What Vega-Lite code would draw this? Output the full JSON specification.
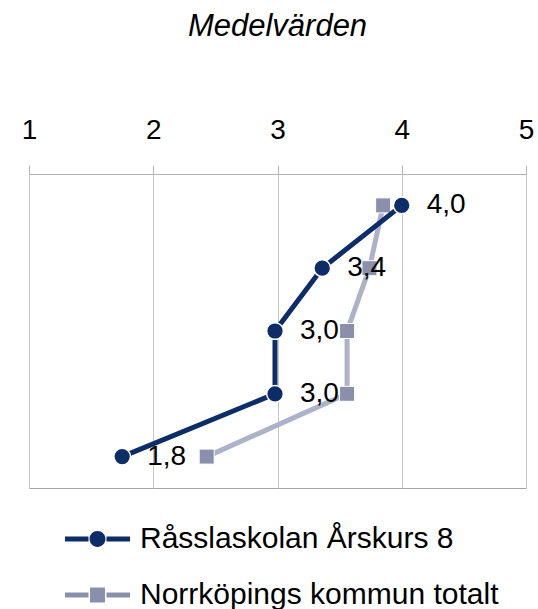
{
  "$schema": "https://vega.github.io/schema/vega-lite/v6.json",
  "width": 497,
  "height": 314,
  "autosize": "none",
  "padding": {"left": 29, "top": 174, "right": 12, "bottom": 121},
  "title": {"text": "Medelvärden", "font": "Liberation Sans", "fontStyle": "italic", "fontWeight": "normal", "fontSize": 31, "color": "#000000", "offset": 73},
  "config": {
    "locale": {"number": {"decimal": ",", "thousands": " ", "grouping": [3], "currency": ["", ""]}},
    "font": "Liberation Sans",
    "view": {"stroke": "#a6a6a6"}
  },
  "data": {"values": [
    {"series": "Råsslaskolan Årskurs 8", "item": "F1", "value": 4.0},
    {"series": "Råsslaskolan Årskurs 8", "item": "F2", "value": 3.36},
    {"series": "Råsslaskolan Årskurs 8", "item": "F3", "value": 2.98},
    {"series": "Råsslaskolan Årskurs 8", "item": "F4", "value": 2.98},
    {"series": "Råsslaskolan Årskurs 8", "item": "F5", "value": 1.75},
    {"series": "Norrköpings kommun totalt", "item": "F1", "value": 3.85},
    {"series": "Norrköpings kommun totalt", "item": "F2", "value": 3.74},
    {"series": "Norrköpings kommun totalt", "item": "F3", "value": 3.56},
    {"series": "Norrköpings kommun totalt", "item": "F4", "value": 3.56},
    {"series": "Norrköpings kommun totalt", "item": "F5", "value": 2.43}
  ]},
  "encoding": {
    "y": {"field": "item", "type": "ordinal", "sort": null, "axis": null, "scale": {"type": "point", "padding": 0.5}},
    "x": {"field": "value", "type": "quantitative", "scale": {"domain": [1, 5], "nice": false, "zero": false},
      "axis": {"orient": "top", "values": [1, 2, 3, 4, 5], "format": "d", "title": null, "grid": true, "gridColor": "#c6c6c6",
        "domainColor": "#b4b4b4", "tickColor": "#b4b4b4", "tickSize": 9, "labelFontSize": 28, "labelColor": "#000000",
        "labelPadding": 21, "labelFont": "Liberation Sans", "labelFlush": false}}
  },
  "layer": [
    {
      "transform": [{"filter": "datum.series === 'Norrköpings kommun totalt'"}],
      "mark": {"type": "line", "color": "#adb2c8", "strokeWidth": 5},
      "encoding": {"order": {"field": "item", "type": "ordinal"}}
    },
    {
      "transform": [{"filter": "datum.series === 'Norrköpings kommun totalt'"}],
      "mark": {"type": "point", "shape": "square", "filled": true, "color": "#8a90ab", "size": 225, "opacity": 1, "stroke": "#ffffff", "strokeWidth": 1}
    },
    {
      "transform": [{"filter": "datum.series === 'Råsslaskolan Årskurs 8'"}],
      "mark": {"type": "line", "color": "#0c2d67", "strokeWidth": 5},
      "encoding": {"order": {"field": "item", "type": "ordinal"}}
    },
    {
      "transform": [{"filter": "datum.series === 'Råsslaskolan Årskurs 8'"}],
      "mark": {"type": "point", "shape": "circle", "filled": true, "color": "#0c2d67", "size": 280, "opacity": 1, "stroke": "#ffffff", "strokeWidth": 1.5}
    },
    {
      "transform": [{"filter": "datum.series === 'Råsslaskolan Årskurs 8'"}],
      "mark": {"type": "text", "align": "left", "baseline": "middle", "dx": 25, "fontSize": 28, "color": "#000000", "font": "Liberation Sans"},
      "encoding": {"text": {"field": "value", "type": "quantitative", "format": ".1f"}}
    },
    {
      "mark": {"type": "point", "filled": true, "opacity": 0},
      "encoding": {
        "color": {"field": "series", "type": "nominal",
          "scale": {"domain": ["Råsslaskolan Årskurs 8", "Norrköpings kommun totalt"], "range": ["#0c2d67", "#8a90ab"]},
          "legend": {"orient": "none", "legendX": 53.5, "legendY": 350, "direction": "vertical", "title": null, "padding": 0,
            "labelFontSize": 30, "labelFont": "Liberation Sans", "labelColor": "#000000", "labelLimit": 0, "symbolSize": 900, "symbolOpacity": 1,
            "symbolStrokeWidth": 0, "labelOffset": 27.5, "rowPadding": 26,
            "encode": {"symbols": {"update": {"opacity": {"value": 1}, "fillOpacity": {"value": 1}, "strokeWidth": {"value": 0}}}}}},
        "shape": {"field": "series", "type": "nominal",
          "scale": {"domain": ["Råsslaskolan Årskurs 8", "Norrköpings kommun totalt"],
            "range": ["M-2.17,-0.17H-0.6V0.17H-2.17Z M0.6,-0.17H2.17V0.17H0.6Z M-0.53,0A0.53,0.53,0,1,1,0.53,0A0.53,0.53,0,1,1,-0.53,0Z",
                      "M-2.17,-0.17H-0.6V0.17H-2.17Z M0.6,-0.17H2.17V0.17H0.6Z M-0.5,-0.5H0.5V0.5H-0.5Z"]}}
      }
    }
  ]
}
